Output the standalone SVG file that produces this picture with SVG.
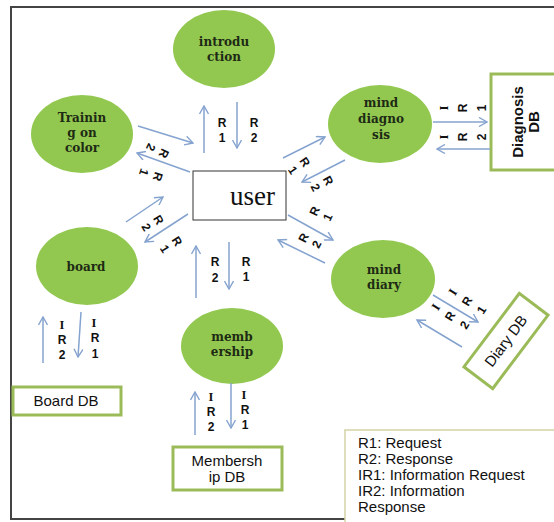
<svg xmlns="http://www.w3.org/2000/svg" width="554" height="522" viewBox="0 0 554 522">
<defs>
<style>
.nd{fill:#92c850;stroke:none}
.nt{font-family:"DejaVu Serif","Liberation Serif",serif;font-weight:bold;font-size:12px;fill:#1e2a14;text-anchor:middle}
.db{fill:#fff;stroke:#9bbb59;stroke-width:3}
.dbt{font-family:"Liberation Sans",Arial,sans-serif;font-size:15px;fill:#111;text-anchor:middle}
.ar{stroke:#85a3cf;stroke-width:1.5;fill:none;marker-end:url(#ah)}
.lb{font-family:"Liberation Sans",Arial,sans-serif;font-weight:bold;font-size:12px;fill:#111;text-anchor:middle}
.ls{font-family:"Liberation Serif","Times New Roman",serif;font-weight:bold;font-size:12.5px;fill:#111;text-anchor:middle}
.lg{font-family:"Liberation Sans",Arial,sans-serif;font-size:15px;fill:#111}
</style>
<marker id="ah" viewBox="0 0 10 10" refX="9" refY="5" markerWidth="10" markerHeight="10" markerUnits="userSpaceOnUse" orient="auto">
<path d="M1,0.5 L9,5 L1,9.5" fill="none" stroke="#85a3cf" stroke-width="1.4"/>
</marker>
</defs>
<rect width="554" height="522" fill="#fff"/>
<path d="M560,7 H11 V519 H560" fill="none" stroke="#444" stroke-width="2"/>

<g id="introduction"><ellipse class="nd" cx="224" cy="49" rx="51" ry="39"/><text class="nt" x="224" y="46">introdu</text><text class="nt" x="224" y="61">ction</text></g>
<g id="training"><ellipse class="nd" cx="82" cy="134" rx="51" ry="39"/><text class="nt" x="82" y="122">Trainin</text><text class="nt" x="82" y="137">g on</text><text class="nt" x="82" y="152">color</text></g>
<g id="mind-diagnosis"><ellipse class="nd" cx="380" cy="124" rx="52" ry="39"/><text class="nt" x="381" y="107">mind</text><text class="nt" x="381" y="123">diagno</text><text class="nt" x="381" y="139">sis</text></g>
<g id="board"><ellipse class="nd" cx="87" cy="266" rx="51" ry="39"/><text class="nt" x="86" y="271">board</text></g>
<g id="membership"><ellipse class="nd" cx="232" cy="346" rx="51" ry="38"/><text class="nt" x="232" y="341">memb</text><text class="nt" x="232" y="356">ership</text></g>
<g id="mind-diary"><ellipse class="nd" cx="383" cy="279" rx="52" ry="39"/><text class="nt" x="384" y="274">mind</text><text class="nt" x="384" y="289">diary</text></g>

<g id="user"><rect x="193" y="171" width="93" height="49" fill="#fff" stroke="#333" stroke-width="1"/><text x="230" y="205" font-family="'Liberation Serif','Times New Roman',serif" font-size="27" fill="#111">user</text></g>

<g id="diagnosis-db"><rect class="db" x="491" y="74" width="72" height="96"/><g transform="translate(526,122) rotate(-90)"><text class="dbt" x="0" y="-3" font-weight="bold">Diagnosis</text><text class="dbt" x="0" y="13" font-weight="bold">DB</text></g></g>
<g id="diary-db"><g transform="translate(506,341) rotate(-53)"><rect class="db" x="-46" y="-18" width="92" height="36"/><text class="dbt" x="0" y="5" font-size="14">Diary DB</text></g></g>
<g id="board-db"><rect class="db" x="13" y="387" width="108" height="28"/><text class="dbt" x="66" y="406">Board DB</text></g>
<g id="membership-db"><rect class="db" x="173" y="447" width="109" height="43"/><text class="dbt" x="227" y="466">Membersh</text><text class="dbt" x="227" y="482">ip DB</text></g>

<g id="legend"><rect x="345" y="430" width="220" height="95" fill="#fff" stroke="#d5d3a6" stroke-width="1.5"/>
<text class="lg" x="358" y="448">R1: Request</text>
<text class="lg" x="358" y="464">R2: Response</text>
<text class="lg" x="358" y="480">IR1: Information Request</text>
<text class="lg" x="358" y="496">IR2: Information</text>
<text class="lg" x="358" y="512">Response</text></g>

<g id="connectors">
<line class="ar" x1="204" y1="153" x2="204" y2="106"/>
<line class="ar" x1="237" y1="102" x2="237" y2="148"/>
<line class="ar" x1="138" y1="126" x2="193" y2="143"/>
<line class="ar" x1="190" y1="172" x2="137" y2="153"/>
<line class="ar" x1="126" y1="222" x2="163" y2="197"/>
<line class="ar" x1="188" y1="214" x2="145" y2="242"/>
<line class="ar" x1="283" y1="158" x2="325" y2="137"/>
<line class="ar" x1="345" y1="160" x2="302" y2="182"/>
<line class="ar" x1="288" y1="215" x2="333" y2="240"/>
<line class="ar" x1="325" y1="263" x2="278" y2="240"/>
<line class="ar" x1="196" y1="298" x2="196" y2="246"/>
<line class="ar" x1="229" y1="242" x2="229" y2="289"/>
<line class="ar" x1="43" y1="363" x2="43" y2="317"/>
<line class="ar" x1="81" y1="312" x2="78" y2="357"/>
<line class="ar" x1="195" y1="435" x2="195" y2="392"/>
<line class="ar" x1="231" y1="383" x2="231" y2="428"/>
<line class="ar" x1="433" y1="122" x2="487" y2="122"/>
<line class="ar" x1="490" y1="149" x2="437" y2="149"/>
<line class="ar" x1="433" y1="295" x2="478" y2="322"/>
<line class="ar" x1="462" y1="347" x2="417" y2="320"/>
</g>

<g id="labels">
<text class="lb" x="222" y="127">R</text><text class="lb" x="222" y="142">1</text>
<text class="lb" x="254" y="127">R</text><text class="lb" x="254" y="142">2</text>
<text class="lb" x="215" y="266">R</text><text class="lb" x="215" y="282">2</text>
<text class="lb" x="246" y="266">R</text><text class="lb" x="246" y="281">1</text>
<text class="ls" x="62" y="329">I</text><text class="lb" x="62" y="344">R</text><text class="lb" x="62" y="359">2</text>
<text class="ls" x="94" y="327">I</text><text class="lb" x="95" y="342">R</text><text class="lb" x="95" y="358">1</text>
<text class="ls" x="211" y="401">I</text><text class="lb" x="211" y="416">R</text><text class="lb" x="211" y="431">2</text>
<text class="ls" x="244" y="399">I</text><text class="lb" x="245" y="414">R</text><text class="lb" x="245" y="429">1</text>
<g transform="translate(157.5,150.5) rotate(115)"><text class="lb" y="-3">R</text><text class="lb" y="11.5">2</text></g>
<g transform="translate(151,174.5) rotate(108)"><text class="lb" y="-3">R</text><text class="lb" y="11.5">1</text></g>
<g transform="translate(152.5,223.5) rotate(59)"><text class="lb" y="-3">R</text><text class="lb" y="11.5">2</text></g>
<g transform="translate(171,245) rotate(58)"><text class="lb" y="-3">R</text><text class="lb" y="11.5">1</text></g>
<g transform="translate(299,166) rotate(56)"><text class="lb" y="-3">R</text><text class="lb" y="11.5">1</text></g>
<g transform="translate(322,184) rotate(62)"><text class="lb" y="-3">R</text><text class="lb" y="11.5">2</text></g>
<g transform="translate(321,214) rotate(-65)"><text class="lb" y="-3">R</text><text class="lb" y="11.5">1</text></g>
<g transform="translate(310,241) rotate(-63)"><text class="lb" y="-3">R</text><text class="lb" y="11.5">2</text></g>
<g transform="translate(463,108) rotate(-90)"><text class="ls" y="-14.7">I</text><text class="lb" y="4.3">R</text><text class="lb" y="23.3">1</text></g>
<g transform="translate(463,137) rotate(-90)"><text class="ls" y="-14.7">I</text><text class="lb" y="4.3">R</text><text class="lb" y="23.3">2</text></g>
<g transform="translate(467,301) rotate(-58)"><text class="ls" y="-12.7">I</text><text class="lb" y="4.3">R</text><text class="lb" y="21.3">1</text></g>
<g transform="translate(450,316) rotate(-58)"><text class="ls" y="-12.7">I</text><text class="lb" y="4.3">R</text><text class="lb" y="21.3">2</text></g>
</g>
</svg>
